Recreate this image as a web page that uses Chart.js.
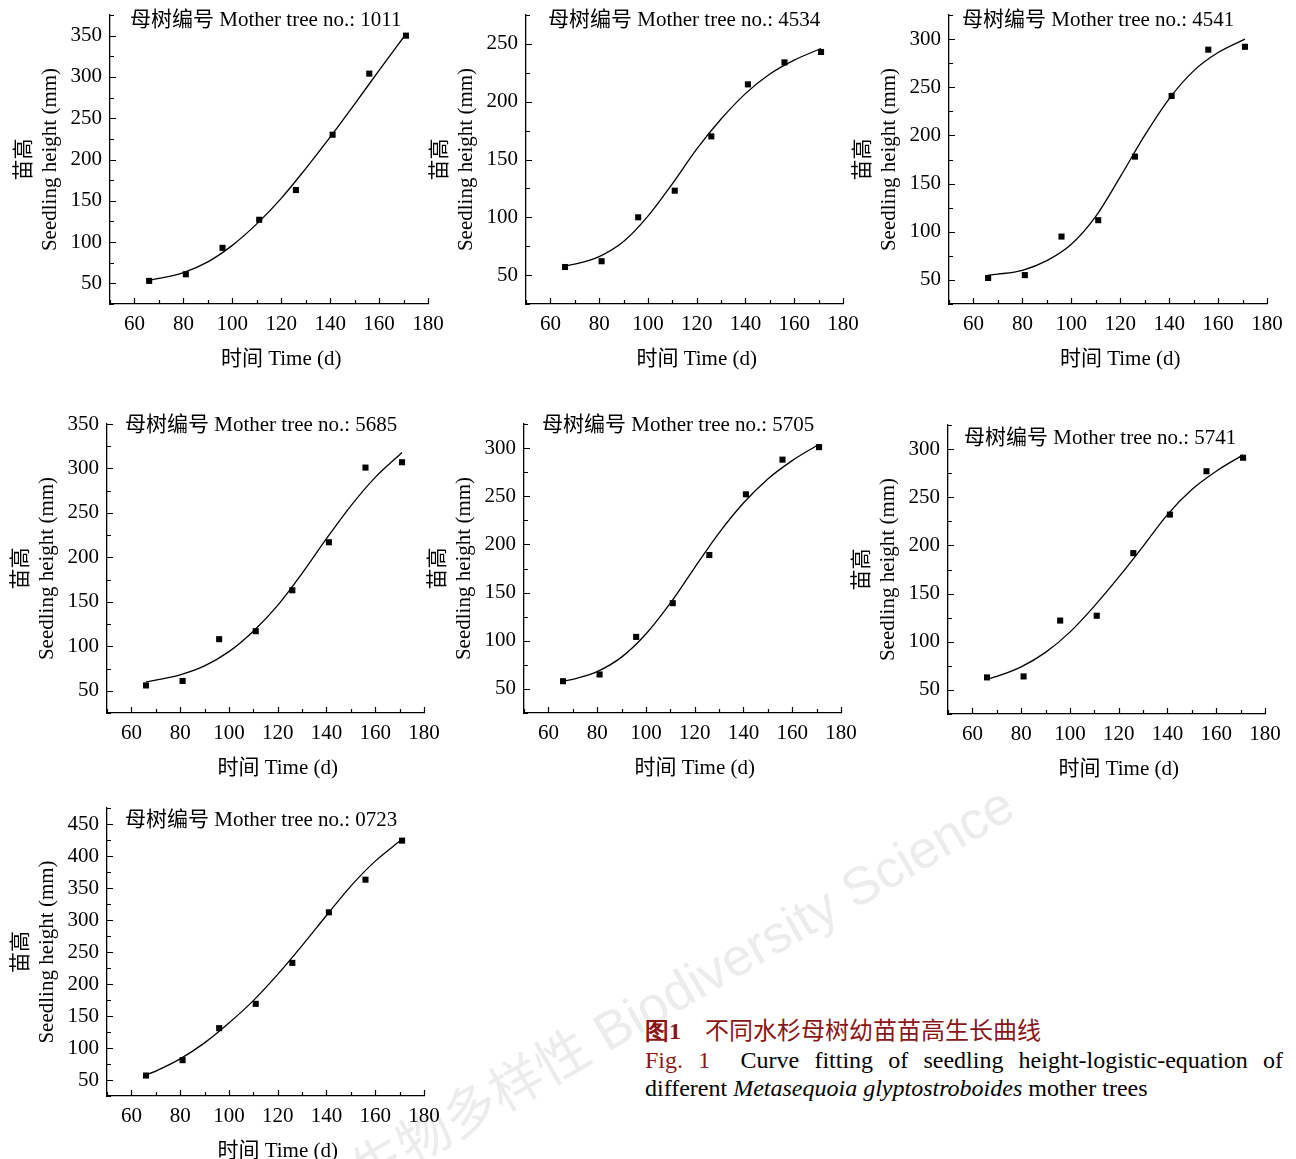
<!DOCTYPE html>
<html>
<head>
<meta charset="utf-8">
<script src="https://cdn.jsdelivr.net/npm/chart.js@4.4.1/dist/chart.umd.min.js"></script>
<style>
html, body { margin: 0; padding: 0; background: #fff; overflow: hidden; }
body { position: relative; width: 1296px; height: 1159px; font-family: "Liberation Serif", "Noto Sans CJK SC", serif; }
#wm { position: absolute; left: 680px; top: 984px; transform: translate(-50%, -50%) rotate(-30deg);
  font: 53px "Liberation Sans", "Noto Sans CJK SC", sans-serif; color: #ececec; white-space: nowrap; }
.cap { position: absolute; left: 645px; width: 638px; height: 28px; line-height: 28px; white-space: nowrap; color: #000; }
.cn { top: 1011px; font: 24px "Noto Sans CJK SC", sans-serif; color: #8a1616; }
.cn b { font-family: "Liberation Serif", serif; }
.en { font-size: 24px; font-family: "Liberation Serif", serif; }
.l2 { top: 1046px; text-align: justify; text-align-last: justify; white-space: normal; }
.l3 { top: 1074px; }
.red { color: #8a1616; }
</style>
</head>
<body>
<div id="wm">生物多样性 Biodiversity Science</div>

<div class="cap cn"><b>图1</b>　不同水杉母树幼苗苗高生长曲线</div>
<div class="cap en l2"><span class="red">Fig. 1</span>&nbsp; Curve fitting of seedling height-logistic-equation of</div>
<div class="cap en l3">different <i>Metasequoia glyptostroboides</i> mother trees</div>

<script>
// 调查日期 (d)
const days = [66, 81, 96, 111, 126, 141, 156, 171];
// 拟合曲线的读数位置 (d)
const fitDays = [66, 70, 80, 90, 100, 110, 120, 130, 140, 150, 160, 171];

// 母树编号
const trees = ['1011', '4534', '4541', '5685', '5705', '5741', '0723'];

// 实测苗高 (mm)
const h1011 = [53, 61, 93, 127, 163, 230, 304, 350];
const h4534 = [57, 62, 100, 123, 170, 215, 234, 243];
const h4541 = [52, 55, 95, 112, 178, 241, 289, 292];
const h5685 = [56, 61, 108, 117, 163, 217, 301, 307];
const h5705 = [58, 65, 104, 139, 189, 252, 288, 301];
const h5741 = [63, 64, 122, 127, 192, 232, 277, 291];
const h0723 = [57, 81, 131, 169, 233, 312, 363, 424];

// Logistic 拟合曲线
const fit1011 = [54, 56, 63, 76, 96, 122, 153, 189, 227, 267, 308, 352];
const fit4534 = [58, 59.5, 66, 79, 101, 129, 159, 185, 207, 224, 236, 246];
const fit4541 = [55, 56, 60, 70, 87, 116, 157, 200, 238, 267, 286, 300];
const fit5685 = [60, 62, 68, 78, 94, 117, 146, 182, 221, 258, 290, 318];
const fit5705 = [58, 60, 68, 83, 107, 139, 176, 212, 243, 268, 287, 304];
const fit5741 = [61, 64, 74, 89, 110, 137, 167, 199, 232, 258, 277, 294];
const fit0723 = [58, 64, 83, 108, 139, 174, 215, 260, 307, 353, 392, 426];

// y 轴上限
const yMax = [375, 275, 325, 350, 325, 325, 475];
const xTicks = [60, 80, 100, 120, 140, 160, 180];

const heights = [h1011, h4534, h4541, h5685, h5705, h5741, h0723];
const fits = [fit1011, fit4534, fit4541, fit5685, fit5705, fit5741, fit0723];

// 各子图绘图区位置 (页面坐标)
const boxes = [
  { l: 110, t: 15, r: 428, b: 304, tdx: 20, tdy: 5 },
  { l: 526, t: 15, r: 843, b: 304, tdx: 22, tdy: 5 },
  { l: 949, t: 15, r: 1267, b: 304, tdx: 13, tdy: 5 },
  { l: 107, t: 424, r: 424, b: 713, tdx: 18, tdy: 1 },
  { l: 524, t: 424, r: 841, b: 713, tdx: 18, tdy: 1 },
  { l: 948, t: 425, r: 1265, b: 714, tdx: 16, tdy: 13 },
  { l: 107, t: 808, r: 424, b: 1096, tdx: 18, tdy: 12 }
];

const Y_W = 99, X_H = 70, PAD_T = 24, PAD_R = 28;
const SERIF = '"Liberation Serif", "Noto Sans CJK SC", serif';

// 向内的刻度线 + 子图标题 + x 轴标题
const innerTicks = {
  id: 'innerTicks',
  afterDraw(chart, args, opts) {
    const ctx = chart.ctx, a = chart.chartArea;
    const xs = chart.scales.x, ys = chart.scales.y;
    ctx.save();
    ctx.strokeStyle = '#000';
    ctx.lineWidth = 1.2;
    ctx.beginPath();
    xs.ticks.forEach(t => {
      const px = Math.round(xs.getPixelForValue(t.value)) + 0.5;
      const len = t.value % 20 === 0 ? 6 : 4;
      ctx.moveTo(px, a.bottom);
      ctx.lineTo(px, a.bottom - len);
    });
    ys.ticks.forEach(t => {
      const py = Math.round(ys.getPixelForValue(t.value)) + 0.5;
      const len = t.value % 50 === 0 ? 6 : 4;
      ctx.moveTo(a.left, py);
      ctx.lineTo(a.left + len, py);
    });
    ctx.stroke();

    ctx.fillStyle = '#000';
    ctx.textBaseline = 'middle';
    ctx.font = '21px ' + SERIF;
    ctx.textAlign = 'left';
    ctx.fillText(opts.title, a.left + opts.dx, a.top + opts.dy);

    ctx.textAlign = 'center';
    ctx.fillText('时间 Time (d)', xs.getPixelForValue(120), a.bottom + 55);
    ctx.restore();
  }
};

trees.forEach((id, i) => {
  const bx = boxes[i];
  const x0 = bx.l - Y_W, y0 = bx.t - PAD_T;
  const w = bx.r - x0 + PAD_R, h = bx.b - y0 + X_H;
  const cv = document.createElement('canvas');
  cv.width = w;
  cv.height = h;
  cv.style.cssText = `position:absolute;left:${x0}px;top:${y0}px;width:${w}px;height:${h}px`;
  document.body.appendChild(cv);

  new Chart(cv, {
    type: 'scatter',
    data: {
      datasets: [
        {
          data: days.map((d, k) => ({ x: d, y: heights[i][k] })),
          pointStyle: 'rect',
          pointRadius: 4.3,
          backgroundColor: '#000',
          borderColor: '#000',
          borderWidth: 0
        },
        {
          data: fitDays.map((d, k) => ({ x: d, y: fits[i][k] })),
          showLine: true,
          pointRadius: 0,
          borderColor: '#000',
          borderWidth: 1.3,
          cubicInterpolationMode: 'monotone',
          fill: false
        }
      ]
    },
    options: {
      responsive: false,
      animation: false,
      devicePixelRatio: 1,
      layout: { autoPadding: false, padding: { left: 0, top: PAD_T, right: PAD_R, bottom: 0 } },
      plugins: {
        legend: { display: false },
        tooltip: { enabled: false },
        innerTicks: { title: '母树编号 Mother tree no.: ' + id, dx: bx.tdx, dy: bx.tdy }
      },
      scales: {
        x: {
          type: 'linear',
          min: 50,
          max: 180,
          afterFit: s => { s.height = X_H; },
          grid: { display: false, drawTicks: false, tickLength: 0 },
          border: { display: true, color: '#000', width: 1.3 },
          ticks: {
            stepSize: 10,
            autoSkip: false,
            maxRotation: 0,
            padding: 8,
            color: '#000',
            font: { family: SERIF, size: 21 },
            callback: v => xTicks.includes(v) ? String(v) : ''
          }
        },
        y: {
          min: 25,
          max: yMax[i],
          afterFit: s => { s.width = Y_W; },
          grid: { display: false, drawTicks: false, tickLength: 0 },
          border: { display: true, color: '#000', width: 1.3 },
          ticks: {
            stepSize: 25,
            autoSkip: false,
            padding: 8,
            color: '#000',
            font: { family: SERIF, size: 21 },
            callback: v => v % 50 === 0 ? String(v) : ''
          },
          title: {
            display: true,
            text: ['苗高', 'Seedling height (mm)'],
            color: '#000',
            padding: 0,
            font: { family: SERIF, size: 21, lineHeight: 1.25 }
          }
        }
      }
    },
    plugins: [innerTicks]
  });
});
</script>
</body>
</html>
